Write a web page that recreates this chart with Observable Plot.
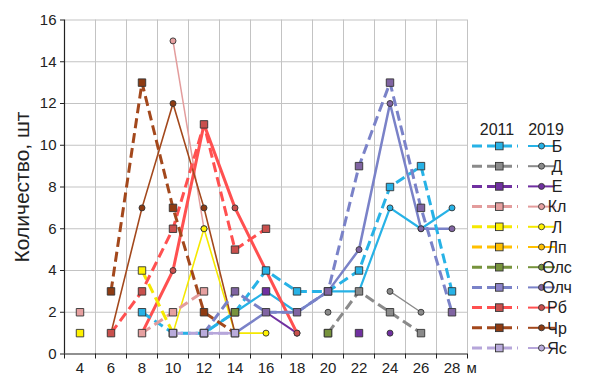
<!DOCTYPE html>
<html>
<head>
<meta charset="utf-8">
<script src="https://cdn.jsdelivr.net/npm/d3@7"></script>
<script src="https://cdn.jsdelivr.net/npm/@observablehq/plot@0.6"></script>
<style>
  body { margin: 0; background: #fff; }
  #chart { position: relative; width: 600px; height: 378px; font-family: "Liberation Sans", Arial, sans-serif; }
</style>
</head>
<body>
<div id="chart"></div>
<script>
// Length classes (m) along the x axis
const lengths = [4, 6, 8, 10, 12, 14, 16, 18, 20, 22, 24, 26, 28];
const yTicks = [0, 2, 4, 6, 8, 10, 12, 14, 16];
const N = null;

// Counts per length class, 2011 survey
const b2011    = [N, N, 2, 1, 1, 2, 4, 3, 3, 4, 8, 9, 3];
const d2011    = [N, N, N, N, N, N, N, N, 1, 3, 2, 1, N];
const e2011    = [N, N, N, N, N, N, 3, N, N, 1, N, N, N];
const kl2011   = [2, N, 1, 2, 3, N, N, N, N, N, N, N, N];
const l2011    = [1, N, 4, 1, N, N, N, N, N, N, N, N, N];
const lp2011   = [N, N, N, N, N, N, N, N, N, N, N, N, N];
const ols2011  = [N, N, N, N, N, 2, N, N, 1, N, N, N, N];
const olch2011 = [N, N, N, N, 1, 3, 2, 2, 3, 9, 13, 7, 2];
const rb2011   = [N, 1, 3, 6, 11, 5, 6, N, N, N, N, N, N];
const chr2011  = [N, 3, 13, 7, 2, 1, N, N, N, N, N, N, N];
const yas2011  = [N, N, N, 1, 1, 1, N, N, N, N, N, N, N];

// Counts per length class, 2019 survey
const b2019    = [N, N, N, N, 1, 2, 3, 2, 3, 3, 7, 6, 7];
const d2019    = [N, N, N, N, 1, 1, N, N, 2, N, 3, 2, N];
const e2019    = [N, N, N, N, N, N, 2, 1, N, N, 1, N, N];
const kl2019   = [N, N, N, 15, 6, N, N, N, N, N, N, N, N];
const l2019    = [N, N, N, 1, 6, 1, 1, N, N, N, N, N, N];
const lp2019   = [N, N, N, N, N, N, N, N, N, N, N, N, N];
const ols2019  = [N, N, N, N, N, N, N, N, N, N, N, N, N];
const olch2019 = [N, N, N, N, N, 1, 2, 2, 3, 5, 12, 6, 6];
const rb2019   = [N, N, 1, 4, 11, 7, 4, 1, N, N, N, N, N];
const chr2019  = [N, 1, 7, 12, 7, 1, N, N, N, N, N, N, N];
const yas2019  = [N, N, N, 1, 1, 1, N, N, N, N, N, N, N];

const species = ["Б", "Д", "Е", "Кл", "Л", "Лп", "Олс", "Олч", "Рб", "Чр", "Яс"];
const values2011 = [b2011, d2011, e2011, kl2011, l2011, lp2011, ols2011, olch2011, rb2011, chr2011, yas2011];
const values2019 = [b2019, d2019, e2019, kl2019, l2019, lp2019, ols2019, olch2019, rb2019, chr2019, yas2019];

const lineColors   = ["#27B2E6", "#8A8A8A", "#7030A0", "#E39C9C", "#F5E800", "#FFC000", "#77933C", "#7A82C8", "#FF5050", "#A3481C", "#B6A6DA"];
const markerColors = ["#27B2E6", "#8A8A8A", "#7030A0", "#E6A0A0", "#FFF200", "#FFC000", "#77933C", "#8064A2", "#C9504D", "#8E3B12", "#B9ABDB"];
const legendSquare = ["#27B2E6", "#8A8A8A", "#7030A0", "#E6A0A0", "#FFF200", "#FFC000", "#77933C", "#8C82C8", "#C9504D", "#8E3B12", "#B9ABDB"];
const width2011 = [3, 3, 3, 3, 3, 3, 3, 3, 3, 3, 3];
const width2019 = [2.2, 1.3, 2, 1.5, 1.6, 2, 2, 2.5, 3, 1.6, 2.5];
const DASH = "10,5";

// Category boundaries sit halfway between length classes
const gridX = d3.range(3, 30, 2);

const seriesMarks = [];
function addSeries(values, i, year) {
  const pts = lengths.map((x, k) => ({x, y: values[k]}));
  const dashed = year === 2011;
  seriesMarks.push(Plot.line(pts, {
    x: "x", y: "y",
    stroke: lineColors[i],
    strokeWidth: dashed ? width2011[i] : width2019[i],
    strokeDasharray: dashed ? DASH : null,
    strokeLinecap: "butt"
  }));
  seriesMarks.push(Plot.dot(pts.filter(d => d.y != null), {
    x: "x", y: "y",
    symbol: dashed ? "square" : "circle",
    r: dashed ? 4.2 : 3,
    fill: markerColors[i],
    stroke: "#333",
    strokeWidth: 0.9
  }));
}
values2019.forEach((v, i) => addSeries(v, i, 2019));
values2011.forEach((v, i) => addSeries(v, i, 2011));

const chart = Plot.plot({
  width: 600,
  height: 378,
  marginLeft: 64,
  marginRight: 133,
  marginTop: 19.5,
  marginBottom: 24.5,
  style: {fontFamily: "'Liberation Sans', Arial, sans-serif", fontSize: "15px", color: "#222", background: "#fff"},
  x: {type: "linear", domain: [3, 29]},
  y: {type: "linear", domain: [0, 16]},
  marks: [
    Plot.ruleX(gridX.slice(1), {stroke: "#c3c3c3", strokeWidth: 1}),
    Plot.ruleY(yTicks.slice(1), {stroke: "#c3c3c3", strokeWidth: 1}),
    ...seriesMarks,
    Plot.ruleX([3], {stroke: "#222", strokeWidth: 1.2}),
    Plot.ruleY([0], {stroke: "#222", strokeWidth: 1.2}),
    Plot.axisY({ticks: yTicks, tickSize: 4, tickPadding: 4, label: null, stroke: "#222", fill: "#222"}),
    Plot.axisX({ticks: gridX, tickSize: 5, tickFormat: () => "", label: null, stroke: "#222"}),
    Plot.axisX({ticks: lengths, tickSize: 0, tickPadding: 8, label: null, fill: "#222"}),
    Plot.text(["м"], {frameAnchor: "bottom-right", textAnchor: "start", lineAnchor: "top", dx: -1, dy: 8, fill: "#222", fontSize: 15}),
    Plot.text(["Количество, шт"], {frameAnchor: "left", textAnchor: "middle", rotate: -90, dx: -42, fontSize: 21, fill: "#222"})
  ]
});
document.getElementById("chart").appendChild(chart);

// Legend: dashed line with square for 2011, solid line with circle for 2019
const svg = d3.select(chart);
const lg = svg.append("g").attr("font-family", "'Liberation Sans', Arial, sans-serif").attr("fill", "#222");
lg.append("text").attr("x", 497).attr("y", 129).attr("dy", "0.35em").attr("text-anchor", "middle").attr("font-size", 16).text("2011");
lg.append("text").attr("x", 546).attr("y", 129).attr("dy", "0.35em").attr("text-anchor", "middle").attr("font-size", 16).text("2019");
species.forEach((name, i) => {
  const y = 146 + i * 20.2;
  const row = lg.append("g");
  row.append("line").attr("x1", 472).attr("x2", 518).attr("y1", y).attr("y2", y)
    .attr("stroke", lineColors[i]).attr("stroke-width", 3).attr("stroke-dasharray", DASH);
  row.append("rect").attr("x", 495.5).attr("y", y - 3.8).attr("width", 7.6).attr("height", 7.6)
    .attr("fill", legendSquare[i]).attr("stroke", "#333").attr("stroke-width", 0.9);
  row.append("line").attr("x1", 528).attr("x2", 555).attr("y1", y).attr("y2", y)
    .attr("stroke", lineColors[i]).attr("stroke-width", 2);
  row.append("circle").attr("cx", 541.5).attr("cy", y).attr("r", 3)
    .attr("fill", markerColors[i]).attr("stroke", "#333").attr("stroke-width", 0.9);
  row.append("text").attr("x", 557).attr("y", y).attr("dy", "0.36em").attr("font-size", 16).text(name);
});
</script>
</body>
</html>
